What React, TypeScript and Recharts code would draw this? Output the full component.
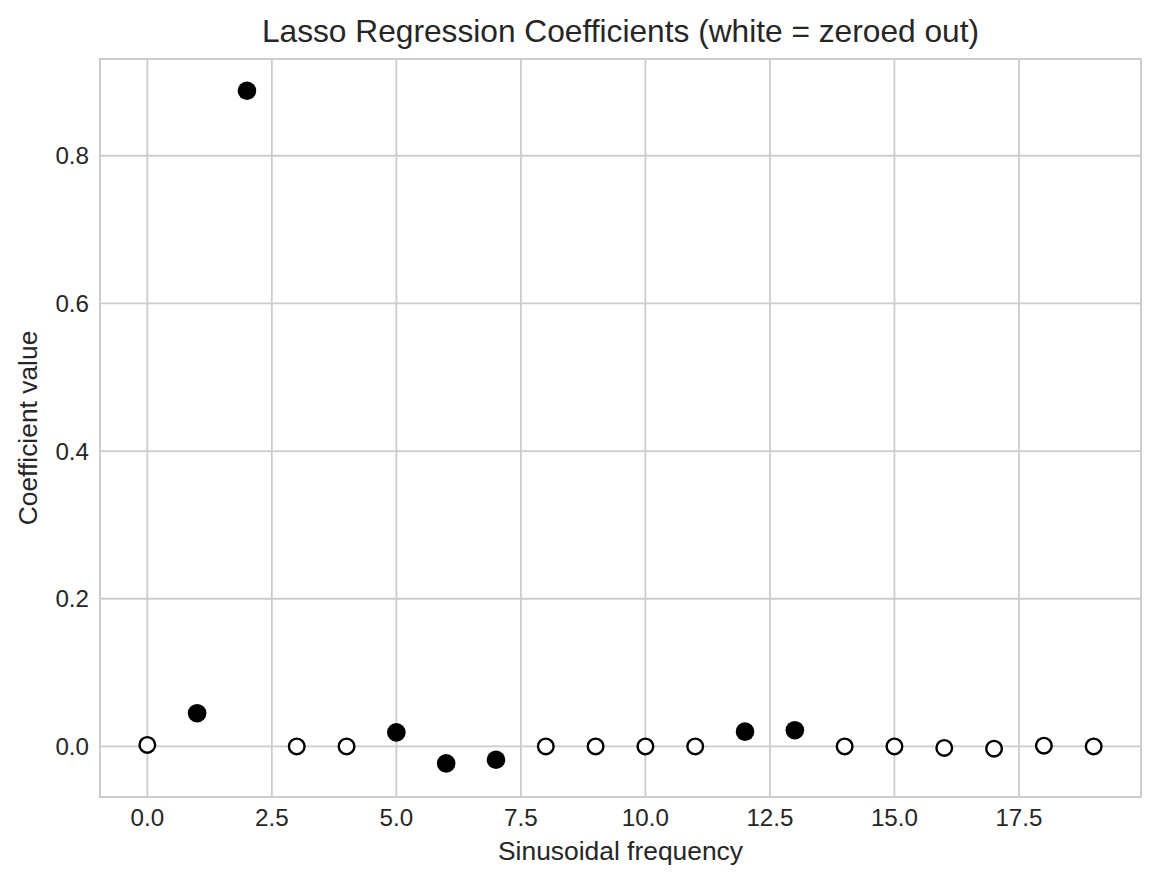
import { CartesianGrid, ReferenceArea, Scatter, ScatterChart, XAxis, YAxis } from 'recharts'

// lasso coefficient per sinusoidal frequency
const frequencies = [0, 1, 2, 3, 4, 5, 6, 7, 8, 9, 10, 11, 12, 13, 14, 15, 16, 17, 18, 19]
const coefficients = [
  0.002, 0.045, 0.888, 0, 0, 0.019, -0.023, -0.018, 0, 0, 0, 0, 0.02, 0.022, 0, 0, -0.002,
  -0.003, 0.001, 0,
]
const zeroedOut = [
  true, false, false, true, true, false, false, false, true, true, true, true, false, false,
  true, true, true, true, true, true,
]
const xTicks = [0, 2.5, 5, 7.5, 10, 12.5, 15, 17.5]
const yTicks = [0, 0.2, 0.4, 0.6, 0.8]

const X_DOMAIN: [number, number] = [-0.95, 19.95]
const Y_DOMAIN: [number, number] = [-0.0685, 0.931]
const FONT = '"Liberation Sans", Arial, sans-serif'
const TEXT = '#262626'

const points = frequencies.map((f, i) => ({ f, coef: coefficients[i], zeroed: zeroedOut[i] }))
const kept = points.filter((p) => !p.zeroed)
const zeroed = points.filter((p) => p.zeroed)

const FilledDot = (props: any) => <circle cx={props.cx} cy={props.cy} r={9.3} fill="#000" />
const OpenDot = (props: any) => (
  <circle cx={props.cx} cy={props.cy} r={7.8} fill="#fff" stroke="#000" strokeWidth={2.4} />
)

export default function App() {
  return (
    <div style={{ position: 'absolute', left: 0, top: 0, background: '#fff', fontFamily: FONT }}>
      <ScatterChart width={1161} height={884} margin={{ top: 59, right: 20, bottom: 0, left: 0 }}>
        <CartesianGrid stroke="#cccccc" strokeWidth={1.8} />
        <ReferenceArea
          x1={X_DOMAIN[0]}
          x2={X_DOMAIN[1]}
          y1={Y_DOMAIN[0]}
          y2={Y_DOMAIN[1]}
          fill="none"
          stroke="#cccccc"
          strokeWidth={2}
        />
        <XAxis
          type="number"
          dataKey="f"
          domain={X_DOMAIN}
          ticks={xTicks}
          tickFormatter={(v: number) => v.toFixed(1)}
          height={87}
          axisLine={false}
          tickLine={false}
          tickMargin={5.5}
          tick={{ fontSize: 24.2, fill: TEXT, fontFamily: FONT }}
          allowDataOverflow
        />
        <YAxis
          type="number"
          dataKey="coef"
          domain={Y_DOMAIN}
          ticks={yTicks}
          tickFormatter={(v: number) => v.toFixed(1)}
          width={100}
          axisLine={false}
          tickLine={false}
          tickMargin={5}
          tick={{ fontSize: 24.2, fill: TEXT, fontFamily: FONT }}
          allowDataOverflow
        />
        <Scatter data={zeroed} shape={OpenDot} isAnimationActive={false} />
        <Scatter data={kept} shape={FilledDot} isAnimationActive={false} />
        <text x={620.5} y={31} textAnchor="middle" dominantBaseline="central" fontSize={31.7} fill={TEXT} fontFamily={FONT}>
          Lasso Regression Coefficients (white = zeroed out)
        </text>
        <text x={620.5} y={851} textAnchor="middle" dominantBaseline="central" fontSize={26.4} fill={TEXT} fontFamily={FONT}>
          Sinusoidal frequency
        </text>
        <text
          x={28}
          y={428}
          textAnchor="middle"
          dominantBaseline="central"
          fontSize={26.4}
          fill={TEXT}
          fontFamily={FONT}
          transform="rotate(-90 28 428)"
        >
          Coefficient value
        </text>
      </ScatterChart>
    </div>
  )
}
